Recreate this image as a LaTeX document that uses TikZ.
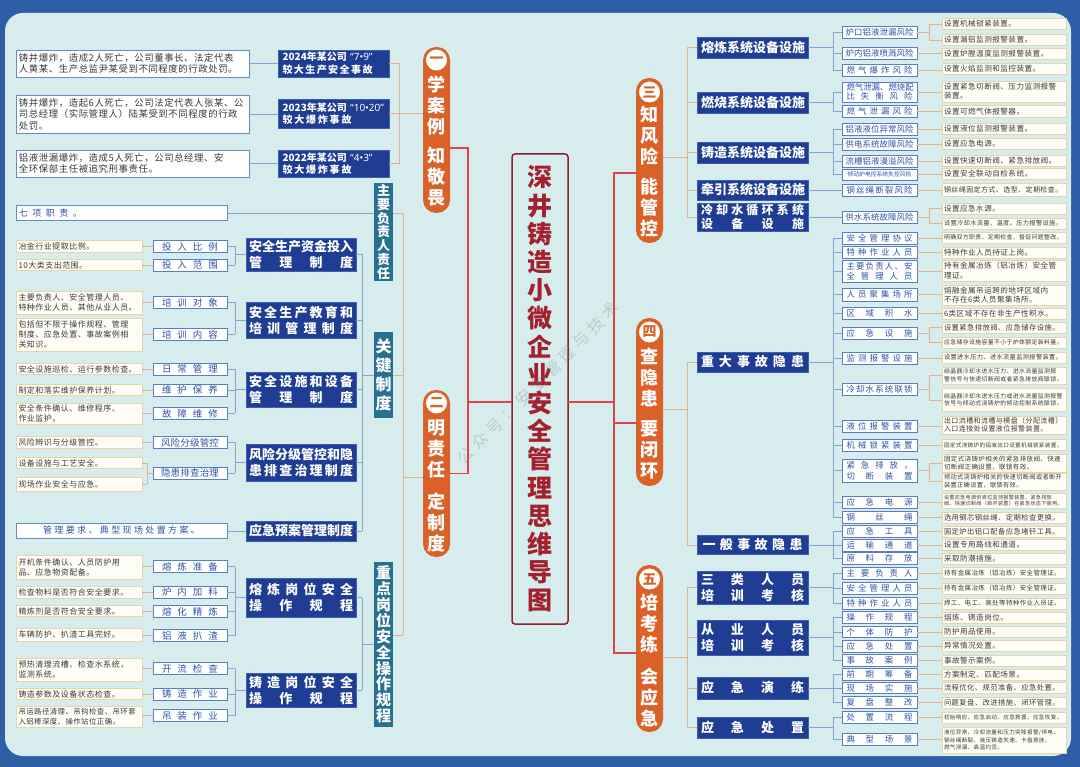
\documentclass[tikz,border=0pt]{standalone}
\usepackage{fontspec}
\setmainfont{Noto Sans CJK SC}
\newfontfamily\lsf{Noto Sans CJK SC}[LetterSpace=6]
\newfontfamily\qf{Noto Sans}
\newcommand\fs[2]{\fontsize{#1}{#2}\selectfont}
\def\SPx#1#2\SPend{#1\ifx\relax#2\relax\else\hfil\SPx#2\SPend\fi}
\newcommand\SP[2]{\makebox[#1][s]{\SPx#2\SPend}}
\def\VTx#1#2\VTend{\hbox to 0pt{\hss#1\hss}\ifx\relax#2\relax\else\VTx#2\VTend\fi}
\newcommand\VT[2]{\vbox{\baselineskip=#1\lineskiplimit=-100pt\lineskip=0pt\VTx#2\VTend}}
\definecolor{frameB}{HTML}{2E5EA6}
\definecolor{bgC}{HTML}{D7EDED}
\definecolor{dkF}{HTML}{1F3E93}
\definecolor{dkB}{HTML}{3D5FB0}
\definecolor{tealF}{HTML}{27708F}
\definecolor{pillO}{HTML}{DA6128}
\definecolor{titleT}{HTML}{A3202E}
\definecolor{titleB}{HTML}{8E1F2B}
\definecolor{redLn}{HTML}{E0424A}
\definecolor{tanLn}{HTML}{E0B293}
\definecolor{blueLn}{HTML}{86A2D0}
\definecolor{midB}{HTML}{5C7DC5}
\definecolor{midT}{HTML}{2F52A8}
\definecolor{leafB}{HTML}{E8D4AA}
\definecolor{leafF}{HTML}{FFFEF6}
\definecolor{leafT}{HTML}{3A3A3A}
\definecolor{caseB}{HTML}{6A89C8}
\tikzset{
 bx/.style={inner sep=0pt, outer sep=0pt},
 leaf/.style={bx, draw=leafB, fill=leafF, text=leafT, line width=0.9pt, align=left, font=\lsf\fs{7.6}{9.2}, minimum height=11.5},
 leafR/.style={leaf, minimum width=124, text width=120},
 leafL/.style={leaf, minimum width=126, text width=121, font=\lsf\fs{8}{10}},
 midbox/.style={bx, draw=midB, fill=white, text=midT, line width=0.9pt, align=center, minimum height=12},
 midL/.style={midbox, minimum width=74, font=\fs{9.5}{11}},
 midR/.style={midbox, minimum width=75, font=\fs{8.4}{10}},
 dk/.style={bx, draw=dkB, fill=dkF, text=white, line width=0.8pt, align=center, font=\bfseries\fs{13}{16}},
 dkL/.style={dk, minimum width=110},
 dkR/.style={dk, minimum width=111},
 caseb/.style={bx, draw=caseB, fill=white, line width=0.9pt, align=left, text=leafT},
 tealb/.style={bx, fill=tealF, text=white, minimum width=19, font=\bfseries},
 pillb/.style={bx, fill=pillO, minimum width=27, rounded corners=13},
 pcirc/.style={circle, bx, fill=white, draw=pillO, line width=0.8pt, minimum size=22, text=pillO, font=\bfseries\fs{14}{14}},
 ptext/.style={bx, text=white, font=\bfseries\fs{18}{18}},
 blueL/.style={draw=blueLn, line width=0.8pt},
 tanL/.style={draw=tanLn, line width=0.8pt},
 redL/.style={draw=redLn, line width=1.2pt},
}
\begin{document}
\begin{tikzpicture}[x=1pt,y=-1pt]
\useasboundingbox (0,0) rectangle (1080,767);
\fill[frameB] (0,0) rectangle (1080,767);
\fill[bgC, rounded corners=18] (5,13) rectangle (1071,756);

% ---------- title ----------
\node[bx, draw=titleB, line width=1.5pt, fill=bgC, rounded corners=3, minimum width=56, minimum height=470, text=titleT, font=\bfseries\fs{25}{25}] (T) at (540,389) {\VT{28.2pt}{深井铸造小微企业安全管理思维导图}};

% ---------- pills ----------
\node[pillb, minimum height=166] (p1) at (436.5,130) {};
\node[pillb, minimum height=167] (p2) at (436.5,473.5) {};
\node[pillb, minimum height=165] (p3) at (649.5,160.5) {};
\node[pillb, minimum height=168] (p4) at (649.5,402) {};
\node[pillb, minimum height=167] (p5) at (649.5,648.5) {};
\node[pcirc] (p1n) at (436.5,60) {一};
\node[pcirc] (p2n) at (436.5,403) {二};
\node[pcirc] (p3n) at (649.5,92) {三};
\node[pcirc] (p4n) at (649.5,332) {四};
\node[pcirc] (p5n) at (649.5,579) {五};
\node[ptext] (p1a) at (436.5,106) {\VT{21pt}{学案例}};
\node[ptext] (p1b) at (436.5,177) {\VT{21pt}{知敬畏}};
\node[ptext] (p2a) at (436.5,449) {\VT{21pt}{明责任}};
\node[ptext] (p2b) at (436.5,523) {\VT{21pt}{定制度}};
\node[ptext] (p3a) at (649.5,136) {\VT{21pt}{知风险}};
\node[ptext] (p3b) at (649.5,207) {\VT{21pt}{能管控}};
\node[ptext] (p4a) at (649.5,378) {\VT{21pt}{查隐患}};
\node[ptext] (p4b) at (649.5,450) {\VT{21pt}{要闭环}};
\node[ptext] (p5a) at (649.5,624) {\VT{21pt}{培考练}};
\node[ptext] (p5b) at (649.5,697) {\VT{21pt}{会应急}};

% ---------- left: cases ----------
\node[caseb, minimum width=233, text width=227, minimum height=27, font=\lsf\fs{9.4}{11.5}] (C1) at (132.5,63.5) {铸井爆炸，造成2人死亡，公司董事长、法定代表\\人黄某、生产总监尹某受到不同程度的行政处罚。};
\node[caseb, minimum width=233, text width=227, minimum height=38, font=\lsf\fs{9.4}{11.5}] (C2) at (132.5,114) {铸井爆炸，造起6人死亡，公司法定代表人张某、公\\司总经理（实际管理人）陆某受到不同程度的行政\\处罚。};
\node[caseb, minimum width=233, text width=227, minimum height=27, font=\lsf\fs{9.4}{11.5}] (C3) at (132.5,163.5) {铝液泄漏爆炸，造成5人死亡，公司总经理、安\\全环保部主任被追究刑事责任。};
\node[dk, minimum width=111, text width=102, align=left, minimum height=27, font=\bfseries\fs{10}{12.5}] (D1) at (333.5,63.5) {2024年某公司{\qf\ “7•9”}\\\SP{90pt}{较大生产安全事故}};
\node[dk, minimum width=111, text width=102, align=left, minimum height=29, font=\bfseries\fs{10}{12.5}] (D2) at (333.5,113.5) {2023年某公司{\qf\ “10•20”}\\\SP{69pt}{较大爆炸事故}};
\node[dk, minimum width=111, text width=102, align=left, minimum height=27, font=\bfseries\fs{10}{12.5}] (D3) at (333.5,163.5) {2022年某公司{\qf\ “4•3”}\\\SP{69pt}{较大爆炸事故}};

% ---------- left: teal ----------
\node[tealb, minimum height=98, font=\bfseries\fs{13}{13}] (Tm1) at (383.5,232) {\VT{13.8pt}{主要负责人责任}};
\node[tealb, minimum height=86, font=\bfseries\fs{16}{16}] (Tm2) at (383.5,375) {\VT{19pt}{关键制度}};
\node[tealb, minimum height=165, font=\bfseries\fs{15}{15}] (Tm3) at (383.5,644.5) {\VT{15.9pt}{重点岗位安全操作规程}};

\node[caseb, minimum width=211, text width=205, minimum height=15, text=midT, font=\fs{9}{11}] (Q7) at (121.5,213) {\SP{63pt}{七项职责。}};
\node[caseb, minimum width=211, minimum height=15, text=midT, align=center, font=\fs{9}{11}] (QM) at (121.5,530.5) {\SP{157pt}{管理要求、典型现场处置方案。}};

% ---------- left: level 2 ----------
\node[dkL, minimum height=33] (E1) at (301,254.5) {\SP{104pt}{安全生产资金投入}\\\SP{104pt}{管理制度}};
\node[dkL, minimum height=36] (E2) at (301,320) {\SP{104pt}{安全生产教育和}\\\SP{104pt}{培训管理制度}};
\node[dkL, minimum height=35] (E3) at (301,389.5) {\SP{104pt}{安全设施和设备}\\\SP{104pt}{管理制度}};
\node[dkL, minimum height=37] (E4) at (301,462.5) {\SP{104pt}{风险分级管控和隐}\\\SP{104pt}{患排查治理制度}};
\node[dkL, minimum height=20] (E5) at (301,531) {\SP{104pt}{应急预案管理制度}};
\node[dkL, minimum height=39] (E6) at (301,597.5) {\SP{104pt}{熔炼岗位安全}\\\SP{104pt}{操作规程}};
\node[dkL, minimum height=34] (E7) at (301,690) {\SP{104pt}{铸造岗位安全}\\\SP{104pt}{操作规程}};

% ---------- left: mid ----------
\node[midL] (M1) at (190,246.5) {\SP{56pt}{投入比例}};
\node[midL] (M2) at (190,265) {\SP{56pt}{投入范围}};
\node[midL] (M3) at (190,302.5) {\SP{56pt}{培训对象}};
\node[midL] (M4) at (190,334.5) {\SP{56pt}{培训内容}};
\node[midL] (M5) at (190,369) {\SP{56pt}{日常管理}};
\node[midL] (M6) at (190,390) {\SP{56pt}{维护保养}};
\node[midL] (M7) at (190,413.5) {\SP{56pt}{故障维修}};
\node[midL] (M8) at (190,442.5) {\SP{58pt}{风险分级管控}};
\node[midL] (M9) at (190,473) {\SP{58pt}{隐患排查治理}};
\node[midL] (M10) at (190,566.5) {\SP{56pt}{熔炼准备}};
\node[midL] (M11) at (190,592) {\SP{56pt}{炉内加料}};
\node[midL] (M12) at (190,611.5) {\SP{56pt}{熔化精炼}};
\node[midL] (M13) at (190,635.5) {\SP{56pt}{铝液扒渣}};
\node[midL] (M14) at (190,668.5) {\SP{56pt}{开流检查}};
\node[midL] (M15) at (190,694) {\SP{56pt}{铸造作业}};
\node[midL] (M16) at (190,715.5) {\SP{56pt}{吊装作业}};

% ---------- left: leaves ----------
\node[leafL] (L1) at (79,246.5) {冶金行业提取比例。};
\node[leafL] (L2) at (79,265) {10大类支出范围。};
\node[leafL, minimum height=23] (L3) at (79,302.5) {主要负责人、安全管理人员、\\特种作业人员、其他从业人员。};
\node[leafL, minimum height=33] (L4) at (79,334.5) {包括但不限于操作规程、管理\\制度、应急处置、事故案例相\\关知识。};
\node[leafL] (L5) at (79,369) {安全设施巡检、运行参数检查。};
\node[leafL] (L6) at (79,390) {制定和落实维护保养计划。};
\node[leafL, minimum height=21] (L7) at (79,413.5) {安全条件确认、维修程序、\\作业监护。};
\node[leafL] (L8) at (79,442.5) {风险辨识与分级管控。};
\node[leafL] (L9) at (79,463) {设备设施与工艺安全。};
\node[leafL, minimum height=14] (L10) at (79,484) {现场作业安全与应急。};
\node[leafL, minimum height=24] (L11) at (79,567) {开机条件确认、人员防护用\\品、应急物资配备。};
\node[leafL] (L12) at (79,592.5) {检查物料是否符合安全要求。};
\node[leafL] (L13) at (79,611) {精炼剂是否符合安全要求。};
\node[leafL, minimum height=13] (L14) at (79,634.5) {车辆防护、扒渣工具完好。};
\node[leafL, minimum height=23] (L15) at (79,669.5) {预热清理流槽、检查水系统，\\监测系统。};
\node[leafL] (L16) at (79,694) {铸造参数及设备状态检查。};
\node[leafL, minimum height=21, font=\lsf\fs{7.4}{9.5}] (L17) at (79,716.5) {吊运路径清理、吊钩检查、吊环套\\入铝棒深度、操作站位正确。};

% ---------- right: level 2 ----------
\node[dkR, minimum height=21] (B1) at (752.5,47.5) {\SP{103pt}{熔炼系统设备设施}};
\node[dkR, minimum height=21] (B2) at (752.5,102.5) {\SP{103pt}{燃烧系统设备设施}};
\node[dkR, minimum height=21] (B3) at (752.5,152.5) {\SP{103pt}{铸造系统设备设施}};
\node[dkR, minimum height=20] (B4) at (752.5,190) {\SP{103pt}{牵引系统设备设施}};
\node[dkR, minimum height=28, font=\bfseries\fs{12}{14}] (B5) at (752.5,217) {\SP{103pt}{冷却水循环系统}\\\SP{103pt}{设备设施}};
\node[dkR, minimum height=20] (B6) at (752.5,362) {\SP{103pt}{重大事故隐患}};
\node[dkR, minimum height=19] (B7) at (752.5,545) {\SP{100pt}{一般事故隐患}};
\node[dkR, minimum height=33] (B8) at (752.5,587.5) {\SP{103pt}{三类人员}\\\SP{103pt}{培训考核}};
\node[dkR, minimum height=35] (B9) at (752.5,637.5) {\SP{103pt}{从业人员}\\\SP{103pt}{培训考核}};
\node[dkR, minimum height=22] (B10) at (752.5,688) {\SP{103pt}{应急演练}};
\node[dkR, minimum height=21] (B11) at (752.5,727.5) {\SP{103pt}{应急处置}};

% ---------- right: level 3 ----------
\node[midR, minimum height=11.5] (T1) at (879.5,32.5) {\SP{68pt}{炉口铝液泄漏风险}};
\node[midR, minimum height=11.5] (T2) at (879.5,53.5) {\SP{68pt}{炉内铝液喷溅风险}};
\node[midR, minimum height=12] (T3) at (879.5,70) {\SP{66pt}{燃气爆炸风险}};
\node[midR, minimum height=20, font=\fs{8.4}{9.5}] (T4) at (879.5,92) {\SP{66pt}{燃气泄漏、燃烧配}\\\SP{66pt}{比失衡风险}};
\node[midR, minimum height=11.5] (T5) at (879.5,111.5) {\SP{66pt}{燃气泄漏风险}};
\node[midR] (T6) at (879.5,129) {\SP{68pt}{铝液液位异常风险}};
\node[midR] (T7) at (879.5,144) {\SP{68pt}{供电系统故障风险}};
\node[midR] (T8) at (879.5,161) {\SP{68pt}{流槽铝液漫溢风险}};
\node[midR, minimum height=11, font=\fs{5.8}{7}] (T9) at (879.5,174.5) {倾动炉电控系统失控风险};
\node[midR] (T10) at (879.5,190) {\SP{66pt}{钢丝绳断裂风险}};
\node[midR] (T11) at (879.5,217) {\SP{68pt}{供水系统故障风险}};
\node[midR, minimum height=11.5] (T12) at (879.5,238.5) {\SP{66pt}{安全管理协议}};
\node[midR, minimum height=11.5] (T13) at (879.5,252.5) {\SP{66pt}{特种作业人员}};
\node[midR, minimum height=22, font=\fs{8.4}{10}] (T14) at (879.5,271) {\SP{66pt}{主要负责人、安}\\\SP{66pt}{全管理人员}};
\node[midR, minimum height=13] (T15) at (879.5,294.5) {\SP{66pt}{人员聚集场所}};
\node[midR] (T16) at (879.5,313) {\SP{66pt}{区域积水}};
\node[midR, minimum height=11.5] (T17) at (879.5,333.5) {\SP{66pt}{应急设施}};
\node[midR] (T18) at (879.5,358) {\SP{66pt}{监测报警设施}};
\node[midR] (T19) at (879.5,389) {\SP{66pt}{冷却水系统联锁}};
\node[midR] (T20) at (879.5,426) {\SP{66pt}{液位报警装置}};
\node[midR] (T21) at (879.5,445) {\SP{66pt}{机械锁紧装置}};
\node[midR, minimum height=23, font=\fs{8.4}{11}] (T22) at (879.5,470.5) {\SP{66pt}{紧急排放，}\\\SP{66pt}{切断装置}};
\node[midR] (T23) at (879.5,502) {\SP{66pt}{应急电源}};
\node[midR] (T24) at (879.5,517) {\SP{66pt}{钢丝绳}};
\node[midR, minimum height=11.5] (T25) at (879.5,531.5) {\SP{66pt}{应急工具}};
\node[midR] (T26) at (879.5,545) {\SP{66pt}{运输通道}};
\node[midR, minimum height=11.5] (T27) at (879.5,558.5) {\SP{66pt}{原料存放}};
\node[midR] (T28) at (879.5,573) {\SP{66pt}{主要负责人}};
\node[midR, minimum height=11.5] (T29) at (879.5,588.5) {\SP{66pt}{安全管理人员}};
\node[midR, minimum height=11.5] (T30) at (879.5,603.5) {\SP{66pt}{特种作业人员}};
\node[midR, minimum height=11.5] (T31) at (879.5,617.5) {\SP{66pt}{操作规程}};
\node[midR, minimum height=10.5] (T32) at (879.5,632) {\SP{66pt}{个体防护}};
\node[midR] (T33) at (879.5,646) {\SP{66pt}{应急处置}};
\node[midR, minimum height=11.5] (T34) at (879.5,660.5) {\SP{66pt}{事故案例}};
\node[midR, minimum height=11.5] (T35) at (879.5,674.5) {\SP{66pt}{前期筹备}};
\node[midR, minimum height=10.5] (T36) at (879.5,688) {\SP{66pt}{现场实施}};
\node[midR, minimum height=11.5] (T37) at (879.5,702.5) {\SP{66pt}{复盘整改}};
\node[midR, minimum height=11.5] (T38) at (879.5,717.5) {\SP{66pt}{处置流程}};
\node[midR] (T39) at (879.5,739) {\SP{66pt}{典型场景}};

% ---------- right: leaves ----------
\node[leafR] (R1) at (1004,24) {设置机械锁紧装置。};
\node[leafR] (R2) at (1004,40) {设置漏铝监测报警装置。};
\node[leafR] (R3) at (1004,54) {设置炉膛温度监测报警装置。};
\node[leafR] (R4) at (1004,69) {设置火焰监测和监控装置。};
\node[leafR, minimum height=21] (R5) at (1004,91.5) {设置紧急切断阀、压力监测报警\\装置。};
\node[leafR] (R6) at (1004,111.5) {设置可燃气体报警器。};
\node[leafR] (R7) at (1004,129) {设置液位监测报警装置。};
\node[leafR] (R8) at (1004,144) {设置应急电源。};
\node[leafR] (R9) at (1004,161) {设置快速切断阀、紧急排放阀。};
\node[leafR, minimum height=11] (R10) at (1004,174) {设置安全联动自检系统。};
\node[leafR, minimum height=12.5, font=\lsf\fs{7}{9}] (R11) at (1004,190) {钢丝绳固定方式、选型、定期检查。};
\node[leafR, minimum height=11] (R12) at (1004,208.5) {设置应急水源。};
\node[leafR, minimum height=11, font=\lsf\fs{6.2}{8}] (R13) at (1004,223.5) {设置冷却水流量、温度、压力报警设施。};
\node[leafR, minimum height=11, font=\lsf\fs{5.9}{8}] (R14) at (1004,237.5) {明确双方职责、定期检查、督促问题整改。};
\node[leafR, minimum height=11] (R15) at (1004,252.5) {特种作业人员持证上岗。};
\node[leafR, minimum height=21] (R16) at (1004,270.5) {持有金属冶炼（铝冶炼）安全管\\理证。};
\node[leafR, minimum height=20] (R17) at (1004,295) {熔融金属吊运跨的地坪区域内\\不存在6类人员聚集场所。};
\node[leafR, minimum height=11] (R18) at (1004,313.5) {6类区域不存在非生产性积水。};
\node[leafR, minimum height=11, font=\lsf\fs{7.3}{9}] (R19) at (1004,327.5) {设置紧急排放阀、应急储存设施。};
\node[leafR, minimum height=11, font=\lsf\fs{5.9}{8}] (R20) at (1004,342.5) {应急储存设施容量不小于炉体额定装料量。};
\node[leafR, minimum height=11, font=\lsf\fs{6.2}{8}] (R21) at (1004,357.5) {设置进水压力、进水流量监测报警装置。};
\node[leafR, minimum height=17, font=\lsf\fs{5.9}{7.5}] (R22) at (1004,375.5) {结晶器冷却水进水压力、进水流量监测报\\警信号与快速切断阀或者紧急排放阀联锁。};
\node[leafR, minimum height=23, font=\lsf\fs{5.9}{7.5}] (R23) at (1004,400) {结晶器冷却水进水压力或进水流量监测报警\\信号与倾动式浇铸炉的倾动控制系统联锁。};
\node[leafR, minimum height=18, font=\lsf\fs{7}{8.5}] (R24) at (1004,425) {出口流槽和流槽与模盘（分配流槽）\\入口连接处设置液位报警装置。};
\node[leafR, minimum height=11.5, font=\lsf\fs{5.6}{7}] (R25) at (1004,445) {固定式浇铸炉的铝液出口设置机械锁紧装置。};
\node[leafR, minimum height=18, font=\lsf\fs{6.5}{8}] (R26) at (1004,463) {固定式浇铸炉相关的紧急排放阀、快速\\切断阀正确设置，联锁有效。};
\node[leafR, minimum height=17, font=\lsf\fs{6.2}{7.8}] (R27) at (1004,481.5) {倾动式浇铸炉相关的快速切断阀或者断开\\装置正确设置，联锁有效。};
\node[leafR, minimum height=15, font=\lsf\fs{5.1}{6.5}] (R28) at (1004,500.5) {设置应急电源供液位监测报警装置、紧急排放\\阀、快速切断阀（断开装置）在紧急状态下使用。};
\node[leafR, minimum height=11, font=\lsf\fs{7.3}{9}] (R29) at (1004,517.5) {选用钢芯钢丝绳、定期检查更换。};
\node[leafR, minimum height=11, font=\lsf\fs{7.3}{9}] (R30) at (1004,531.5) {固定炉出铝口配备应急堵钎工具。};
\node[leafR] (R31) at (1004,545) {设置专用路线和通道。};
\node[leafR, minimum height=11] (R32) at (1004,558.5) {采取防潮措施。};
\node[leafR, font=\lsf\fs{6.5}{8}] (R33) at (1004,573) {持有金属冶炼（铝冶炼）安全管理证。};
\node[leafR, minimum height=11, font=\lsf\fs{6.5}{8}] (R34) at (1004,588.5) {持有金属冶炼（铝冶炼）安全管理证。};
\node[leafR, minimum height=11, font=\lsf\fs{6.5}{8}] (R35) at (1004,603.5) {焊工、电工、高处等特种作业人员证。};
\node[leafR, minimum height=11] (R36) at (1004,617.5) {熔炼、铸造岗位。};
\node[leafR, minimum height=10.5] (R37) at (1004,632) {防护用品使用。};
\node[leafR] (R38) at (1004,646) {异常情况处置。};
\node[leafR, minimum height=11] (R39) at (1004,660.5) {事故警示案例。};
\node[leafR, minimum height=11] (R40) at (1004,674.5) {方案制定、匹配场景。};
\node[leafR, minimum height=10.5, font=\lsf\fs{7.3}{9}] (R41) at (1004,688) {流程优化、规范准备、应急处置。};
\node[leafR, minimum height=11, font=\lsf\fs{7.3}{9}] (R42) at (1004,702.5) {问题复盘、改进措施、闭环管理。};
\node[leafR, minimum height=11, font=\lsf\fs{5.6}{7}] (R43) at (1004,717.5) {初始响应、应急启动、应急救援、应急恢复。};
\node[leafR, minimum height=26, font=\lsf\fs{5.6}{7.5}] (R44) at (1004,740) {液位异常、冷却流量和压力突降报警/停电、\\钢丝绳断裂、液压铸造失速、卡盘悬挂、\\燃气泄漏、高温灼烫。};

% ---------- helper coordinates ----------
\coordinate (j1) at (399,113);
\coordinate (a1) at (468,148);
\coordinate (rL) at (468,402);
\coordinate (b0) at (614,402);
\coordinate (b1) at (614,173);
\coordinate (b2) at (614,423);
\coordinate (b3) at (614,653);
\coordinate (k0) at (403,477);
\coordinate (k1) at (403,213);
\coordinate (k3) at (403,635);
\coordinate (vx) at (362,0);
\coordinate (vm) at (235,0);
\coordinate (vl) at (147,0);
\coordinate (vr) at (687,0);
\coordinate (vt) at (833,0);
\coordinate (vrl) at (929,0);
\coordinate (c3) at (687,157);
\coordinate (c4) at (687,409);
\coordinate (c5) at (687,657);

% ---------- red trunk ----------
\draw[redL] (p1.east |- a1) -- (a1) |- (p2.east);
\draw[redL] (rL) -- (T.west |- rL);
\draw[redL] (T.east |- b0) -- (b0);
\draw[redL] (p3.west |- b1) -- (b1) -- (b3) -- (p5.west |- b3);
\draw[redL] (b2) -- (p4.west |- b2);

% ---------- pill one ----------
\draw[tanL] (p1.west |- j1) -- (j1);
\draw[tanL] (j1) |- (D1.east);
\draw[tanL] (j1) |- (D3.east);
\draw[tanL] (j1) -- (D2.east |- j1);
\foreach \c/\d in {C1/D1,C2/D2,C3/D3} \draw[blueL] (\c.east) -- (\c.east -| \d.west);

% ---------- pill two ----------
\draw[tanL] (p2.west |- k0) -- (k0);
\draw[tanL] (k1) -- (k3);
\draw[tanL] (Tm1.east |- k1) -- (k1);
\draw[tanL] (Tm2.east) -- (Tm2.east -| k1);
\draw[tanL] (Tm3.east |- k3) -- (k3);
\draw[blueL] (Q7.east) -- (Q7.east -| Tm1.west);
\draw[blueL] (E1.east -| vx) -- (E5.east -| vx);
\draw[blueL] (E6.east -| vx) -- (E7.east -| vx);
\foreach \e in {E1,E2,E3,E4,E5,E6,E7} \draw[blueL] (\e.east) -- (\e.east -| vx);
\draw[blueL] (Tm2.west) -- (Tm2.west -| vx);
\draw[blueL] (Tm3.west) -- (Tm3.west -| vx);
\foreach \e/\f/\l in {E1/M1/M2,E2/M3/M4,E3/M5/M7,E4/M8/M9,E6/M10/M13,E7/M14/M16} {
  \draw[blueL] (\e.west) -- (\e.west -| vm);
  \draw[blueL] (\f.east -| vm) -- (\l.east -| vm);
}
\foreach \i in {1,...,16} \draw[blueL] (M\i.east) -- (M\i.east -| vm);
\draw[blueL] (E5.west) -- (E5.west -| QM.east);
\foreach \l/\m in {L1/M1,L2/M2,L3/M3,L4/M4,L5/M5,L6/M6,L7/M7,L8/M8,L11/M10,L12/M11,L13/M12,L14/M13,L15/M14,L16/M15,L17/M16}
  \draw[tanL] (\m.west) -- (\m.west -| \l.east);
\draw[tanL] (M9.west) -- (M9.west -| vl);
\draw[tanL] (L9.east -| vl) -- (L10.east -| vl);
\draw[tanL] (L9.east) -- (L9.east -| vl);
\draw[tanL] (L10.east) -- (L10.east -| vl);

% ---------- right pills to level 2 ----------
\draw[tanL] (p3.east |- c3) -- (c3);
\draw[tanL] (p4.east |- c4) -- (c4);
\draw[tanL] (p5.east |- c5) -- (c5);
\draw[tanL] (B1.west -| vr) -- (B5.west -| vr);
\draw[tanL] (B6.west -| vr) -- (B7.west -| vr);
\draw[tanL] (B8.west -| vr) -- (B11.west -| vr);
\foreach \b in {B1,B2,B3,B4,B5,B6,B7,B8,B9,B10,B11} \draw[tanL] (\b.west) -- (\b.west -| vr);

% ---------- level 2 to level 3 ----------
\foreach \b/\f/\l in {B1/T1/T3,B2/T4/T5,B3/T6/T9,B6/T12/T24,B7/T25/T27,B8/T28/T30,B9/T31/T34,B10/T35/T37,B11/T38/T39} {
  \draw[blueL] (\f.west -| vt) -- (\l.west -| vt);
}
\foreach \b in {B1,B2,B3,B4,B5,B6,B7,B8,B9,B10,B11} \draw[blueL] (\b.east) -- (\b.east -| vt);
\foreach \i in {1,...,39} \draw[blueL] (T\i.west) -- (T\i.west -| vt);

% ---------- level 3 to leaves ----------
\foreach \a/\b in {T2/R3,T3/R4,T4/R5,T5/R6,T6/R7,T7/R8,T8/R9,T9/R10,T10/R11,T12/R14,T13/R15,T14/R16,T15/R17,T16/R18,T18/R21,T20/R24,T21/R25,T23/R28,T24/R29,T25/R30,T26/R31,T27/R32,T28/R33,T29/R34,T30/R35,T31/R36,T32/R37,T33/R38,T34/R39,T35/R40,T36/R41,T37/R42,T38/R43,T39/R44}
  \draw[tanL] (\a.east) -- (\a.east -| \b.west);
\foreach \a/\b/\c in {T1/R1/R2,T11/R12/R13,T17/R19/R20,T19/R22/R23,T22/R26/R27} {
  \draw[tanL] (\a.east) -- (\a.east -| vrl);
  \draw[tanL] (\b.west -| vrl) -- (\c.west -| vrl);
  \draw[tanL] (\b.west) -- (\b.west -| vrl);
  \draw[tanL] (\c.west) -- (\c.west -| vrl);
}

% ---------- watermark ----------
\node[bx, rotate=45, text=gray, opacity=0.3, font=\fs{16}{16}] (wm) at (538,383) {\SP{220pt}{公众号：安全管理与技术}};
\end{tikzpicture}
\end{document}
